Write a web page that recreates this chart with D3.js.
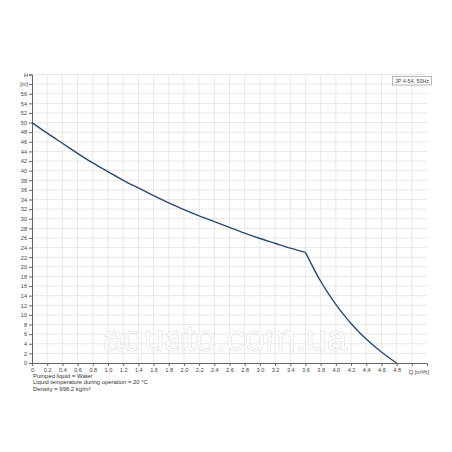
<!DOCTYPE html>
<html><head><meta charset="utf-8">
<script src="https://cdn.jsdelivr.net/npm/d3@7"></script>
<style>body{margin:0;background:#fff}svg{display:block}text{font-family:"Liberation Sans",Arial,sans-serif}</style>
</head><body>
<script>
const flow = [0,0.2,0.4,0.6,0.8,1.0,1.2,1.4,1.6,1.8,2.0,2.2,2.4,2.6,2.8,3.0,3.2,3.4,3.6,3.7,3.8,3.9,4.0,4.1,4.2,4.3,4.4,4.5,4.6,4.7,4.8];
const head = [50,47.8,45.7,43.6,41.6,39.8,38.0,36.4,34.8,33.3,31.9,30.6,29.4,28.2,27.0,25.9,24.9,23.9,23.0,19.9,17.0,14.5,12.2,10.1,8.2,6.5,5.0,3.6,2.3,1.1,0];
const xTicks = d3.range(0, 26).map(i => +(i*0.2).toFixed(1));
const yTicks = d3.range(0, 31).map(i => i*2);
const seriesName = "JP 4-54, 50Hz";
const notes = ["Pumped liquid = Water","Liquid temperature during operation = 20 \u00B0C","Density = 998.2 kg/m\u00B3"];
const watermark = "aquato.com.ua";

const W = 452, H = 452;
const svg = d3.select("body").append("svg").attr("width", W).attr("height", H);
const x = d3.scaleLinear().domain([0, 5.2]).range([32, 427]);
const y = d3.scaleLinear().domain([0, 60]).range([363, 74.5]);

// grid
const g = svg.append("g");
g.selectAll(".vx").data(xTicks.filter(d=>d>0)).enter().append("line")
  .attr("x1", d=>x(d)).attr("x2", d=>x(d)).attr("y1", y(0)).attr("y2", y(60))
  .attr("stroke", "#e2e2e2").attr("stroke-width", 0.8);
g.selectAll(".hy").data(yTicks.filter(d=>d>0)).enter().append("line")
  .attr("x1", x(0)).attr("x2", x(5.2)).attr("y1", d=>y(d)).attr("y2", d=>y(d))
  .attr("stroke", "#e2e2e2").attr("stroke-width", 0.8);

// watermark
svg.append("text").attr("x", 225).attr("y", 351).attr("text-anchor", "middle")
  .attr("font-size", 37).attr("fill", "#fff").attr("stroke", "#e0e0e0").attr("stroke-width", 0.6)
  .text(watermark);

// axes
const xAxis = d3.axisBottom(x).tickValues(xTicks).tickSize(3).tickPadding(2)
  .tickFormat(d => d === 0 ? "0" : (d >= 5 ? "" : d.toFixed(1)));
const gx = svg.append("g").attr("transform", `translate(0,${y(0)})`).call(xAxis);
const yAxis = d3.axisLeft(y).tickValues(yTicks).tickSize(3).tickPadding(2)
  .tickFormat(d => d >= 58 ? "" : String(d));
const gy = svg.append("g").attr("transform", `translate(${x(0)},0)`).call(yAxis);
[gx, gy].forEach(a => {
  a.select(".domain").attr("stroke", "#666").attr("stroke-width", 1);
  a.selectAll(".tick line").attr("stroke", "#666");
  a.selectAll(".tick text").attr("font-size", 5.6).attr("fill", "#444")
    .attr("font-family", "'Liberation Sans',Arial,sans-serif");
});

// axis titles
svg.append("text").attr("x", 28).attr("y", y(60)+2.5).attr("text-anchor", "end")
  .attr("font-size", 5.6).attr("fill", "#444").text("H");
svg.append("text").attr("x", 28).attr("y", y(58)+2).attr("text-anchor", "end")
  .attr("font-size", 5.6).attr("fill", "#444").text("[m]");
svg.append("text").attr("x", 429).attr("y", y(0)+10.5).attr("text-anchor", "end")
  .attr("font-size", 5.6).attr("fill", "#444").text("Q [m\u00B3/h]");

// curve
const pts = flow.map((q, i) => [q, head[i]]);
const knee = 18;
const line = d3.line().x(d => x(d[0])).y(d => y(d[1])).curve(d3.curveNatural);
svg.append("path").datum(pts.slice(0, knee+1)).attr("d", line)
  .attr("fill", "none").attr("stroke", "#2c4a70").attr("stroke-width", 1.4);
svg.append("path").datum(pts.slice(knee)).attr("d", line)
  .attr("fill", "none").attr("stroke", "#2c4a70").attr("stroke-width", 1.4);

// legend box
const lg = svg.append("g");
lg.append("rect").attr("x", 392.5).attr("y", 76.5).attr("width", 39).attr("height", 8.5)
  .attr("fill", "#fff").attr("stroke", "#999").attr("stroke-width", 0.7);
lg.append("text").attr("x", 412).attr("y", 82.8).attr("text-anchor", "middle")
  .attr("font-size", 5.4).attr("fill", "#444").text(seriesName);

// notes
svg.selectAll(".note").data(notes).enter().append("text")
  .attr("x", 33).attr("y", (d, i) => 378 + i*6.3)
  .attr("font-size", 5.9).attr("fill", "#333").text(d => d);
</script>
</body></html>
